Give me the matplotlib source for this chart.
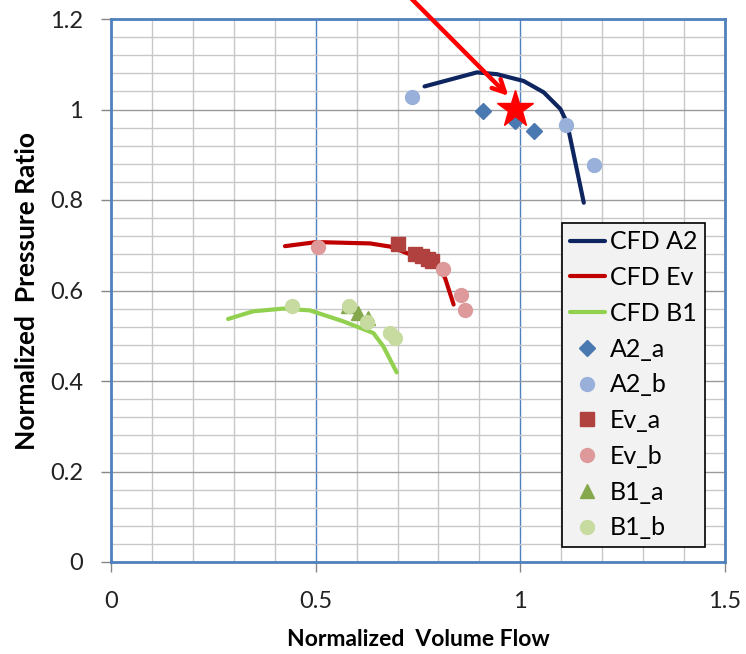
import matplotlib
matplotlib.use("Agg")
import matplotlib.pyplot as plt
from matplotlib.ticker import MultipleLocator

plt.rcParams['font.family'] = ['Lato', 'DejaVu Sans']

# ---- data ----
cfd_a2_x = [0.766, 0.894, 0.943, 1.008, 1.057, 1.098, 1.114, 1.155]
cfd_a2_y = [1.051, 1.082, 1.078, 1.063, 1.038, 1.001, 0.971, 0.794]
cfd_ev_x = [0.425, 0.502, 0.633, 0.682, 0.730, 0.779, 0.804, 0.816, 0.837]
cfd_ev_y = [0.698, 0.707, 0.704, 0.697, 0.680, 0.665, 0.646, 0.628, 0.569]
cfd_b1_x = [0.286, 0.347, 0.421, 0.486, 0.567, 0.641, 0.665, 0.698]
cfd_b1_y = [0.537, 0.554, 0.560, 0.556, 0.532, 0.506, 0.477, 0.419]

a2_a_x = [0.908, 0.988, 1.034]
a2_a_y = [0.997, 0.975, 0.953]
a2_b_x = [0.735, 1.112, 1.181]
a2_b_y = [1.028, 0.965, 0.877]
ev_a_x = [0.700, 0.743, 0.759, 0.775, 0.784]
ev_a_y = [0.702, 0.681, 0.676, 0.669, 0.665]
ev_b_x = [0.506, 0.812, 0.855, 0.865]
ev_b_y = [0.696, 0.648, 0.591, 0.558]
b1_a_x = [0.580, 0.604, 0.629]
b1_a_y = [0.565, 0.551, 0.540]
b1_b_x = [0.441, 0.582, 0.625, 0.682, 0.694]
b1_b_y = [0.565, 0.565, 0.531, 0.506, 0.495]

star_x, star_y = 0.988, 1.001
arrow_start = (0.735, 1.244)
arrow_end = (0.971, 1.030)

x_ticks = [0, 0.5, 1, 1.5]
x_ticklabels = ["0", "0.5", "1", "1.5"]
y_ticks = [0, 0.2, 0.4, 0.6, 0.8, 1.0, 1.2]
y_ticklabels = ["0", "0.2", "0.4", "0.6", "0.8", "1", "1.2"]

# ---- figure ----
fig = plt.figure(figsize=(7.46, 6.54), dpi=100)
ax = fig.add_axes([111/746, 92/654, (725-111)/746, (562-19)/654])

ax.set_xlim(0, 1.5)
ax.set_ylim(0, 1.2)

# grid
ax.xaxis.set_minor_locator(MultipleLocator(0.1))
ax.yaxis.set_minor_locator(MultipleLocator(0.04))
ax.set_xticks(x_ticks)
ax.set_xticklabels(x_ticklabels)
ax.set_yticks(y_ticks)
ax.set_yticklabels(y_ticklabels)
ax.grid(which='minor', axis='both', color='#C8C8C8', lw=1.0, zorder=0)
ax.grid(which='major', axis='x', color='#4F81BD', lw=1.0, zorder=0)
ax.grid(which='major', axis='y', color='#9A9A9A', lw=1.0, zorder=0)
ax.set_axisbelow(True)
for s in ax.spines.values():
    s.set_color('#4F81BD')
    s.set_linewidth(2.0)
ax.tick_params(which='minor', length=0)
ax.tick_params(which='major', length=7, color='#868686', width=1,
               labelsize=17, labelcolor='#222222')
ax.tick_params(axis='x', pad=14)
ax.tick_params(axis='y', pad=13)

# lines
ax.plot(cfd_a2_x, cfd_a2_y, color='#0E2560', lw=3, label='CFD A2', zorder=3, solid_capstyle='round')
ax.plot(cfd_ev_x, cfd_ev_y, color='#C00000', lw=3, label='CFD Ev', zorder=3, solid_capstyle='round')
ax.plot(cfd_b1_x, cfd_b1_y, color='#92D050', lw=3, label='CFD B1', zorder=3, solid_capstyle='round')

# markers
ax.plot(a2_a_x, a2_a_y, 'D', color='#4A78B0', ms=8, ls='none', label='A2_a', zorder=4)
ax.plot(a2_b_x, a2_b_y, 'o', color='#98B0DA', ms=10, ls='none', label='A2_b', zorder=4)
ax.plot(ev_a_x, ev_a_y, 's', color='#B0413E', ms=9.5, ls='none', label='Ev_a', zorder=4)
ax.plot(ev_b_x, ev_b_y, 'o', color='#DE9A9A', ms=10, ls='none', label='Ev_b', zorder=4)
ax.plot(b1_a_x, b1_a_y, '^', color='#86A84C', ms=10, ls='none', label='B1_a', zorder=4)
ax.plot(b1_b_x, b1_b_y, 'o', color='#C7DBA0', ms=10, ls='none', label='B1_b', zorder=4)

# star + arrow
ax.plot([star_x], [star_y], '*', color='#FF0000', ms=28, mec='#FF0000', zorder=6, clip_on=False)
ax.annotate('', xy=arrow_end, xytext=arrow_start, xycoords='data', textcoords='data',
            annotation_clip=False, zorder=7,
            arrowprops=dict(arrowstyle='->, head_length=0.9, head_width=0.45',
                            color='#FF0000', lw=3.2, shrinkA=0, shrinkB=0))

ax.set_xlabel('Normalized  Volume Flow', fontsize=16.5, fontweight='bold', labelpad=12)
ax.set_ylabel('Normalized  Pressure Ratio', fontsize=19, fontweight='bold', labelpad=8)

leg = ax.legend(loc='lower right', bbox_to_anchor=(0.967, 0.028), frameon=True, fancybox=False,
                edgecolor='black', facecolor='#F2F2F2', framealpha=1, fontsize=18,
                labelspacing=0.51, handlelength=1.4, handletextpad=0.2, borderpad=0.3,
                borderaxespad=0)
leg.get_frame().set_linewidth(1.2)
leg.set_zorder(5)

fig.savefig('out.png', dpi=100)
